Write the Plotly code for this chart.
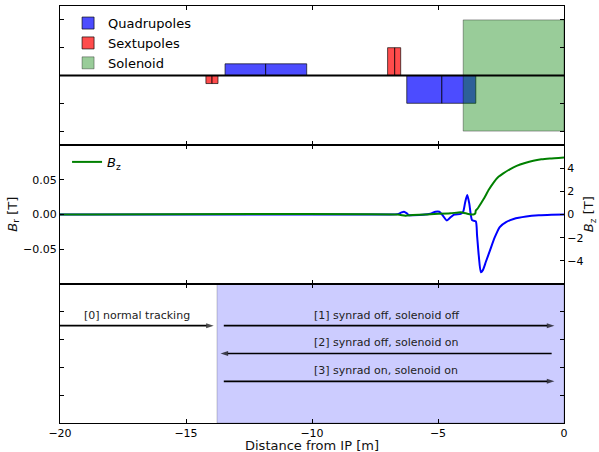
import plotly.graph_objects as go

# ---------------- data ----------------
# Magnet layout (distance from IP in m) and relative strengths
quad_start = [-13.45, -11.84, -6.24, -4.85]
quad_end = [-11.84, -10.21, -4.85, -3.50]
quad_strength = [0.42, 0.42, -1.0, -1.0]

sext_start = [-14.21, -13.97, -7.00, -6.72]
sext_end = [-13.97, -13.73, -6.72, -6.48]
sext_strength = [-0.29, -0.29, 1.0, 1.0]

sol_start = [-4.0]
sol_end = [0.0]
sol_low = [-2.0]
sol_high = [2.0]

# Radial field B_r [T]
br_s = [-20.0, -10.0, -7.0, -6.6, -6.45, -6.35, -6.25, -6.15, -6.0, -5.6, -5.3,
        -5.1, -4.95, -4.8, -4.65, -4.5, -4.35, -4.1, -4.0, -3.92, -3.84, -3.76,
        -3.7, -3.65, -3.5, -3.45, -3.38, -3.3, -3.22, -3.1, -2.94, -2.75, -2.55,
        -2.3, -2.0, -1.5, -1.0, -0.5, 0.0]
br_val = [0.0, 0.0, 0.0, 0.0005, 0.003, 0.004, 0.002, -0.001, -0.001, -0.0005, 0.001,
          0.004, 0.004, -0.002, -0.0085, -0.004, 0.0, 0.001, 0.004, 0.018, 0.028, 0.016,
          0.0, -0.008, -0.01, -0.03, -0.06, -0.083, -0.08, -0.068, -0.052, -0.033, -0.018,
          -0.011, -0.0065, -0.003, -0.0012, -0.0004, 0.0]

# Longitudinal field B_z [T]
bz_s = [-20.0, -6.6, -6.3, -6.0, -5.5, -4.5, -4.1, -3.8, -3.6, -3.52, -3.5, -3.43,
        -3.3, -3.17, -2.98, -2.78, -2.6, -2.41, -2.15, -1.88, -1.55, -1.22, -0.9,
        -0.56, 0.0]
bz_val = [0.0, 0.0, -0.1, -0.05, 0.0, 0.1, 0.2, 0.05, 0.0, 0.1, 0.35, 0.5,
          0.95, 1.4, 2.15, 2.8, 3.25, 3.55, 3.9, 4.2, 4.45, 4.64, 4.76,
          4.84, 4.93]

# Tracking scenarios
scen_labels = ["[0] normal tracking", "[1] synrad off, solenoid off",
               "[2] synrad off, solenoid on", "[3] synrad on, solenoid on"]
scen_from = [-20.0, -13.5, -0.49, -13.5]
scen_to = [-13.9, -0.38, -13.63, -0.38]
scen_level = [3.5, 3.5, 2.5, 1.5]
synrad_zone = [-13.77, 0.0]

# ---------------- figure ----------------
FONT = "DejaVu Sans"
fig = go.Figure()


def centers(a, b):
    return [(x0 + x1) / 2 for x0, x1 in zip(a, b)]


def widths(a, b):
    return [x1 - x0 for x0, x1 in zip(a, b)]


fig.add_trace(go.Bar(
    x=centers(quad_start, quad_end), width=widths(quad_start, quad_end),
    y=quad_strength, base=[0] * len(quad_strength),
    marker=dict(color="rgba(0,0,255,0.7)", line=dict(color="rgba(0,0,0,0.65)", width=1)),
    name="Quadrupoles", xaxis="x3", yaxis="y3", legend="legend"))
fig.add_trace(go.Bar(
    x=centers(sext_start, sext_end), width=widths(sext_start, sext_end),
    y=sext_strength, base=[0] * len(sext_strength),
    marker=dict(color="rgba(255,0,0,0.7)", line=dict(color="rgba(0,0,0,0.65)", width=1)),
    name="Sextupoles", xaxis="x3", yaxis="y3", legend="legend"))
fig.add_trace(go.Bar(
    x=centers(sol_start, sol_end), width=widths(sol_start, sol_end),
    y=[h - l for l, h in zip(sol_low, sol_high)], base=sol_low,
    marker=dict(color="rgba(0,128,0,0.4)", line=dict(color="rgba(0,0,0,0.35)", width=1)),
    name="Solenoid", xaxis="x3", yaxis="y3", legend="legend"))

fig.add_trace(go.Scatter(
    x=br_s, y=br_val, mode="lines", line=dict(color="blue", width=2, shape="spline", smoothing=0.6),
    name="B_r", showlegend=False, xaxis="x2", yaxis="y2"))
fig.add_trace(go.Scatter(
    x=bz_s, y=bz_val, mode="lines", line=dict(color="green", width=2, shape="spline", smoothing=0.5),
    name="<i>B</i><sub>z</sub>", xaxis="x2", yaxis="y4", legend="legend2"))

# tracking scenario arrows
for x0, x1, lev in zip(scen_from, scen_to, scen_level):
    fig.add_trace(go.Scatter(
        x=[x0, x1], y=[lev, lev], mode="lines+markers", showlegend=False,
        line=dict(color="black", width=1.7),
        marker=dict(symbol=["circle", "arrow"], size=[0, 8], angleref="previous",
                    color="black", line=dict(width=0)),
        xaxis="x", yaxis="y", hoverinfo="skip"))

# synrad region in tracking panel
fig.add_shape(type="rect", xref="x", yref="y", x0=synrad_zone[0], x1=synrad_zone[1],
              y0=0, y1=5, fillcolor="#ccccff", line=dict(color="rgba(0,0,0,0.2)", width=1),
              layer="below")

# zero reference line in magnet panel
fig.add_shape(type="line", xref="x3", yref="y3", x0=-20, x1=0, y0=0, y1=0,
              line=dict(color="black", width=2), layer="above")

label_x = [-16.95, -10.0, -10.0, -10.0]
label_anchor = ["center", "left", "left", "left"]
for lab, lev, lx, anc in zip(scen_labels, scen_level, label_x, label_anchor):
    fig.add_annotation(x=lx, y=lev + 0.38, xref="x", yref="y", text=lab, showarrow=False,
                       xanchor=anc, yanchor="middle", font=dict(family=FONT, size=11, color="#222"))

# axis titles
fig.add_annotation(x=0.5, y=-0.054, xref="paper", yref="paper", text="Distance from IP [m]",
                   showarrow=False, xanchor="center", yanchor="middle",
                   font=dict(family=FONT, size=13, color="#111"))
fig.add_annotation(x=-0.093, y=0.5, xref="paper", yref="paper", text="<i>B</i><sub>r</sub> [T]",
                   showarrow=False, textangle=-90, xanchor="center", yanchor="middle",
                   font=dict(family=FONT, size=13, color="#111"))
fig.add_annotation(x=1.051, y=0.5, xref="paper", yref="paper", text="<i>B</i><sub>z</sub> [T]",
                   showarrow=False, textangle=-90, xanchor="center", yanchor="middle",
                   font=dict(family=FONT, size=13, color="#111"))

axis_common = dict(showline=True, linecolor="black", linewidth=1, ticks="inside", ticklen=4,
                   tickwidth=1, tickcolor="black", showgrid=False, zeroline=False,
                   automargin=False, tickfont=dict(family=FONT, size=11, color="black"))

fig.update_layout(
    template="none",
    width=599, height=452,
    margin=dict(l=60, r=35, t=6, b=29),
    paper_bgcolor="white", plot_bgcolor="white",
    barmode="overlay",
    font=dict(family=FONT, size=11, color="black"),
    xaxis=dict(domain=[0, 1], anchor="y", range=[-20, 0], tick0=-20, dtick=5, mirror="ticks",
               **axis_common),
    xaxis2=dict(domain=[0, 1], anchor="y2", matches="x", range=[-20, 0], tick0=-20, dtick=5,
                mirror="ticks", showticklabels=False, **axis_common),
    xaxis3=dict(domain=[0, 1], anchor="y3", matches="x", range=[-20, 0], tick0=-20, dtick=5,
                mirror="ticks", showticklabels=False, **axis_common),
    yaxis=dict(domain=[0, 1 / 3], anchor="x", range=[0, 5], tickvals=[1, 2, 3, 4],
               showticklabels=False, mirror="ticks", **axis_common),
    yaxis2=dict(domain=[1 / 3, 2 / 3], anchor="x2", range=[-0.1, 0.1],
                tickvals=[-0.05, 0, 0.05], tickformat=".2f", mirror=True, **axis_common),
    yaxis3=dict(domain=[2 / 3, 1], anchor="x3", range=[-2.5, 2.5], tickvals=[-2, -1, 0, 1, 2],
                showticklabels=False, mirror="ticks", **axis_common),
    yaxis4=dict(overlaying="y2", anchor="x2", side="right", range=[-6, 6],
                tickvals=[-4, -2, 0, 2, 4], **axis_common),
    legend=dict(x=0.016, y=0.995, xanchor="left", yanchor="top", bgcolor="rgba(0,0,0,0)",
                font=dict(family=FONT, size=13), tracegroupgap=0, itemwidth=30),
    legend2=dict(x=0.014, y=0.662, xanchor="left", yanchor="top", bgcolor="rgba(0,0,0,0)",
                 font=dict(family=FONT, size=13), itemwidth=30),
)

fig.write_html("out.html", config={"displayModeBar": False},
               post_script="document.body.style.margin='0';")
